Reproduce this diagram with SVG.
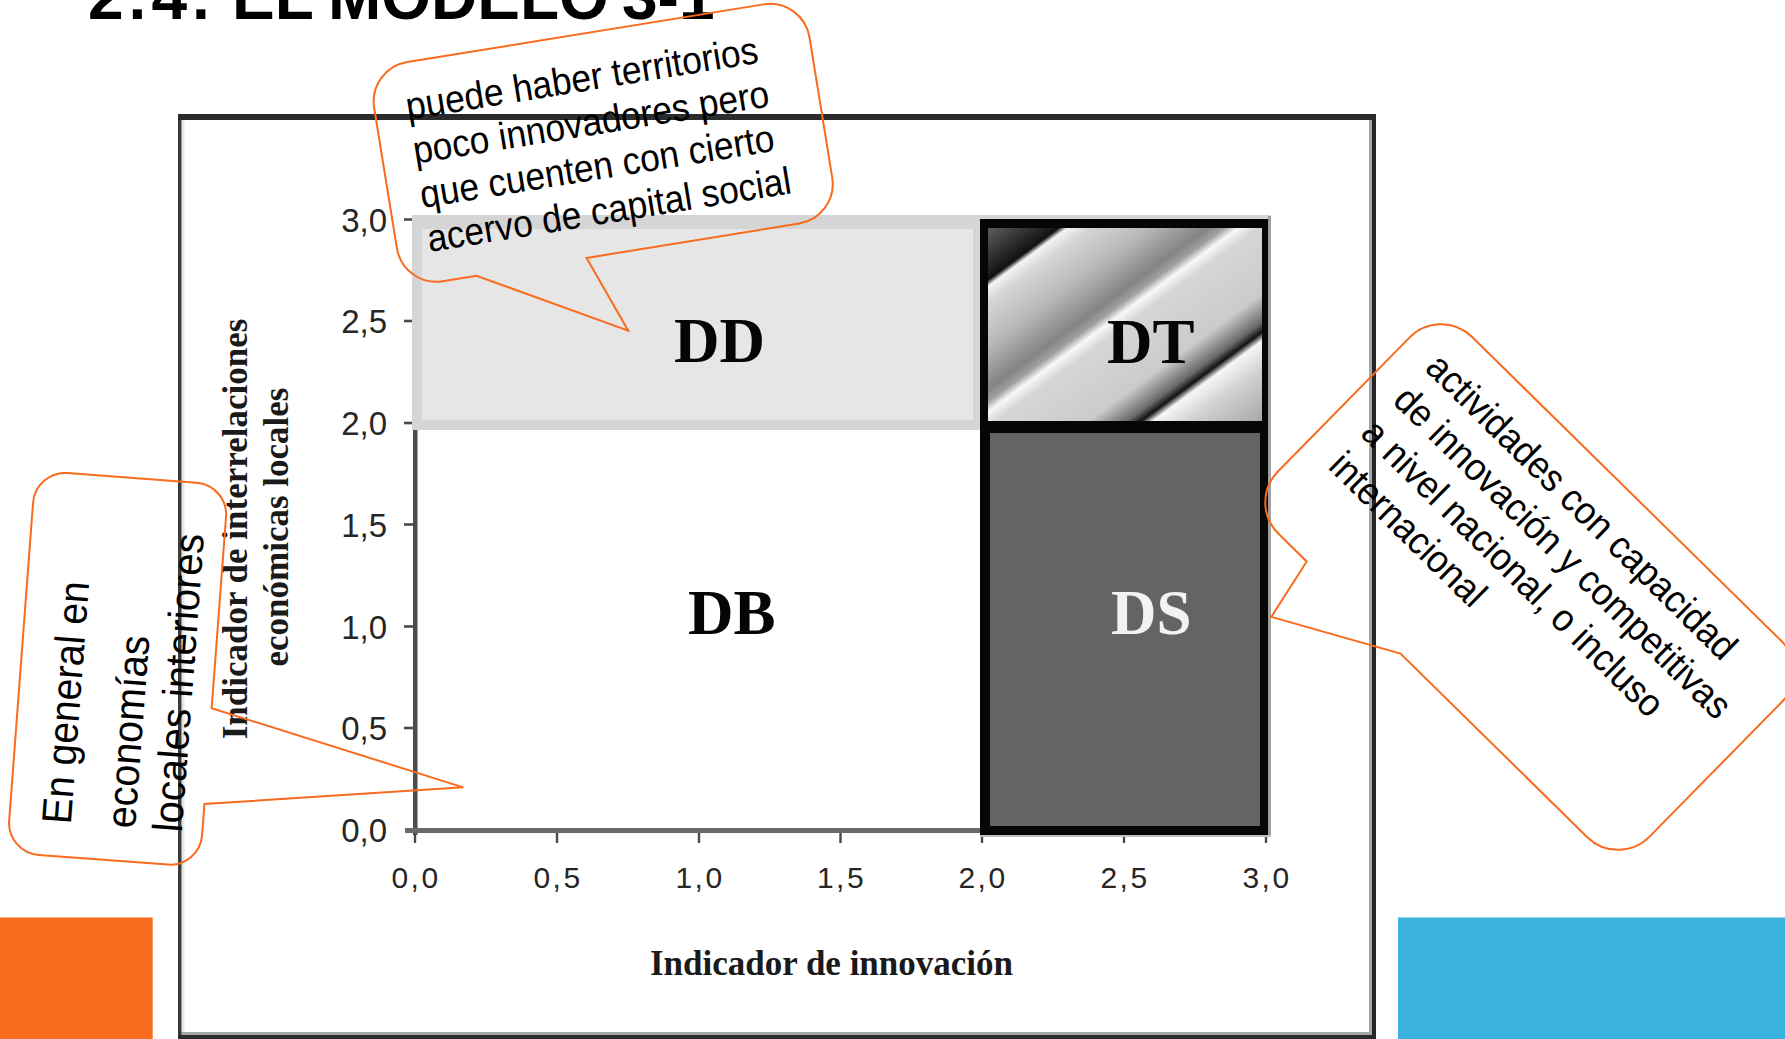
<svg xmlns="http://www.w3.org/2000/svg" width="1785" height="1039" viewBox="0 0 1785 1039">
<defs>
<style>
.title{font-family:"Liberation Sans",Arial,sans-serif;font-weight:bold;font-size:64px;fill:#000}
.yt{font-family:"Liberation Sans",Arial,sans-serif;font-size:33px;fill:#262626;text-anchor:end}
.xt{font-family:"Liberation Sans",Arial,sans-serif;font-size:30px;fill:#262626;text-anchor:middle;letter-spacing:2.5px}
.axt{font-family:"Liberation Serif","Times New Roman",serif;font-weight:bold;font-size:35px;fill:#1a1a1a;text-anchor:middle}
.big{font-family:"Liberation Serif","Times New Roman",serif;font-weight:bold;font-size:63px;fill:#050505}
.bigw{font-family:"Liberation Serif","Times New Roman",serif;font-weight:bold;font-size:63px;fill:#f2f2f2}
.callout{fill:none;stroke:#F96B1D;stroke-width:2;stroke-linejoin:miter}
.ct{font-family:"Liberation Sans",Arial,sans-serif;font-size:38.5px;fill:#000}
.ct2{font-family:"Liberation Sans",Arial,sans-serif;font-size:42px;fill:#000}
.tick{fill:#4a4a4a}
</style>
<linearGradient id="metal" gradientUnits="userSpaceOnUse" x1="988" y1="228" x2="1175.8" y2="483.7">
<stop offset="0" stop-color="#5c5c5c"/>
<stop offset="0.063" stop-color="#3a3a3a"/>
<stop offset="0.132" stop-color="#111"/>
<stop offset="0.148" stop-color="#f4f4f4"/>
<stop offset="0.189" stop-color="#d6d6d6"/>
<stop offset="0.30" stop-color="#b8b8b8"/>
<stop offset="0.41" stop-color="#848484"/>
<stop offset="0.441" stop-color="#a0a0a0"/>
<stop offset="0.467" stop-color="#f8f8f8"/>
<stop offset="0.504" stop-color="#d6d6d6"/>
<stop offset="0.678" stop-color="#cbcbcb"/>
<stop offset="0.75" stop-color="#6a6a6a"/>
<stop offset="0.776" stop-color="#121212"/>
<stop offset="0.798" stop-color="#f6f6f6"/>
<stop offset="0.867" stop-color="#d2d2d2"/>
<stop offset="1" stop-color="#a8a8a8"/>
</linearGradient>
</defs>
<rect x="0" y="0" width="1785" height="1039" fill="#fff"/>

<g id="title">
<text class="title" x="88" y="18.5"><tspan letter-spacing="5">2.4.</tspan><tspan x="232">EL</tspan><tspan x="328">MODELO</tspan><tspan x="622">3-1</tspan></text>
</g>

<g id="decor">
<rect x="0" y="917.5" width="152.7" height="121.5" fill="#F96B1D"/>
<rect x="1398" y="917.5" width="387" height="121.5" fill="#3BB1DE"/>
</g>

<g id="frame">
<rect x="178" y="114" width="1198" height="925" fill="#fff"/>
<rect x="181.5" y="120" width="3" height="912" fill="#e6e6e6"/>
<rect x="1369" y="120" width="3" height="915" fill="#a8a8a8"/>
<rect x="181" y="1032" width="1191" height="3" fill="#a8a8a8"/>
<rect x="178" y="114" width="3.5" height="925" fill="#3a3a3a"/>
<rect x="1372" y="114" width="4" height="925" fill="#262626"/>
<rect x="178" y="114" width="1198" height="6" fill="#2b2b2b"/>
<rect x="178" y="1035" width="1198" height="4" fill="#2b2b2b"/>
</g>

<g id="axes">
<rect x="413" y="219" width="4.5" height="616" fill="#4d4d4d"/>
<rect class="tick" x="404" y="218.2" width="13" height="2.6"/>
<rect class="tick" x="404" y="319.7" width="10" height="2.6"/>
<rect class="tick" x="404" y="421.7" width="10" height="2.6"/>
<rect class="tick" x="404" y="523.2" width="10" height="2.6"/>
<rect class="tick" x="404" y="625.2" width="10" height="2.6"/>
<rect class="tick" x="404" y="726.7" width="10" height="2.6"/>
<rect x="405" y="828" width="576" height="5" fill="#6a6a6a"/>
<rect class="tick" x="413.8" y="833" width="2.4" height="10"/>
<rect class="tick" x="555.8" y="833" width="2.4" height="10"/>
<rect class="tick" x="697.8" y="833" width="2.4" height="10"/>
<rect class="tick" x="839.3" y="833" width="2.4" height="10"/>
<rect class="tick" x="980.8" y="833" width="2.4" height="10"/>
<rect class="tick" x="1122.8" y="833" width="2.4" height="10"/>
<rect class="tick" x="1264.8" y="833" width="2.4" height="10"/>
<text class="yt" x="387" y="231.5">3,0</text>
<text class="yt" x="387" y="333">2,5</text>
<text class="yt" x="387" y="435">2,0</text>
<text class="yt" x="387" y="536.5">1,5</text>
<text class="yt" x="387" y="638.5">1,0</text>
<text class="yt" x="387" y="740">0,5</text>
<text class="yt" x="387" y="842">0,0</text>
<text class="xt" x="416" y="888">0,0</text>
<text class="xt" x="558" y="888">0,5</text>
<text class="xt" x="700" y="888">1,0</text>
<text class="xt" x="841.5" y="888">1,5</text>
<text class="xt" x="983" y="888">2,0</text>
<text class="xt" x="1125" y="888">2,5</text>
<text class="xt" x="1267" y="888">3,0</text>
<text class="axt" transform="translate(247,529) rotate(-90)">Indicador de interrelaciones</text>
<text class="axt" transform="translate(288,527) rotate(-90)">económicas locales</text>
<text class="axt" x="831.5" y="975">Indicador de innovación</text>
</g>

<g id="DD">
<rect x="412" y="215" width="859" height="215" fill="#d5d5d5"/>
<rect x="422" y="229" width="551" height="191" fill="#e6e6e6"/>
<text class="big" x="674" y="362">DD</text>
</g>

<g id="DB">
<text class="big" x="688" y="634">DB</text>
</g>

<g id="DT">
<rect x="1268" y="216" width="3" height="621" fill="#a0a0a0"/>
<rect x="980" y="835" width="291" height="2" fill="#c0c0c0"/>
<rect x="980" y="219" width="288" height="616" fill="#060606"/>
<rect x="988" y="228" width="274" height="193" fill="url(#metal)"/>
<text class="big" x="1107" y="363">DT</text>
</g>

<g id="DS">
<rect x="990" y="433" width="270" height="393" fill="#646464"/>
<text class="bigw" x="1111" y="634">DS</text>
</g>

<g id="connectors">
<g id="callout-top" transform="translate(603.2,142.8) rotate(-9.2)">
<path class="callout" d="M -180.5,-111 L 180.5,-111 A 40 40 0 0 1 220.5,-71 L 220.5,71 A 40 40 0 0 1 180.5,111 L -34.8,111 L -5.3,189.5 L -146.3,111 L -180.5,111 A 40 40 0 0 1 -220.5,71 L -220.5,-71 A 40 40 0 0 1 -180.5,-111 Z"/>
<text class="ct" transform="translate(-189,-54) scale(0.92,1)">puede haber territorios</text>
<text class="ct" transform="translate(-189,-9.3) scale(0.92,1)">poco innovadores pero</text>
<text class="ct" transform="translate(-189,35.4) scale(0.92,1)">que cuenten con cierto</text>
<text class="ct" transform="translate(-189,80) scale(0.92,1)">acervo de capital social</text>
</g>
<g id="callout-left" transform="translate(117.6,668.8) rotate(4.3)">
<path class="callout" d="M -64.75,-191.5 L 64.75,-191.5 A 32 32 0 0 1 96.75,-159.5 L 96.75,32.3 L 353.6,92.3 L 96.75,128.3 L 96.75,159.5 A 32 32 0 0 1 64.75,191.5 L -64.75,191.5 A 32 32 0 0 1 -96.75,159.5 L -96.75,-159.5 A 32 32 0 0 1 -64.75,-191.5 Z"/>
<text class="ct2" transform="translate(-35,159) rotate(-90) scale(0.93,1)">En general en</text>
<text class="ct2" transform="translate(29.3,158.5) rotate(-90) scale(0.94,1)">economías</text>
<text class="ct2" transform="translate(76.2,159) rotate(-90) scale(0.95,1)">locales interiores</text>
</g>
<g id="callout-right" transform="translate(1529.6,587) rotate(44.5)">
<path class="callout" d="M -216.5,-138 L 216.5,-138 A 44 44 0 0 1 260.5,-94 L 260.5,94 A 44 44 0 0 1 216.5,138 L -45.4,138 L -163.3,202.4 L -176.9,138 L -216.5,138 A 44 44 0 0 1 -260.5,94 L -260.5,-94 A 44 44 0 0 1 -216.5,-138 Z"/>
<text class="ct" transform="translate(-228,-81) scale(0.925,1)">actividades con capacidad</text>
<text class="ct" transform="translate(-228,-35) scale(0.925,1)">de innovación y competitivas</text>
<text class="ct" transform="translate(-228,11) scale(0.925,1)">a nivel nacional, o incluso</text>
<text class="ct" transform="translate(-228,57) scale(0.925,1)">internacional</text>
</g>
</g>
</svg>
